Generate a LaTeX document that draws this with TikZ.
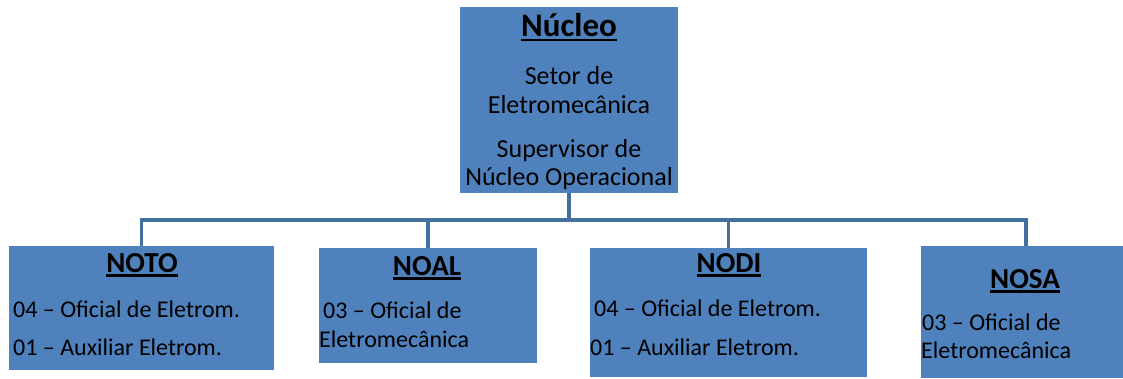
\documentclass[tikz,border=0pt]{standalone}
\usepackage{fontspec}
\setmainfont{Carlito}
\newcommand\myul[2]{\setbox0\hbox{#2}\rlap{\raisebox{-#1}{\rule{\wd0}{2.2pt}}}\box0}
\tikzset{
  box/.style={draw=none, fill=boxblue, rectangle, inner sep=0pt},
  conn/.style={draw=linkblue, line width=3.5pt},
  ttl/.style={anchor=base, inner sep=0pt, font=\bfseries\fontsize{29}{30}\selectfont},
  bodyc/.style={anchor=base, inner sep=0pt, font=\fontsize{26}{29}\selectfont},
  bodyl/.style={anchor=base west, inner sep=0pt, font=\fontsize{24}{28}\selectfont},
}
\definecolor{boxblue}{HTML}{4F81BD}
\definecolor{linkblue}{HTML}{41719C}
\begin{document}
\begin{tikzpicture}[x=1pt,y=-1pt]
\useasboundingbox (0,0) rectangle (1123,378);
% boxes
\node[box, minimum width=218pt, minimum height=186pt] (nucleo) at (569,100) {};
\node[box, minimum width=265pt, minimum height=124pt] (noto) at (141.5,308) {};
\node[box, minimum width=218pt, minimum height=115pt] (noal) at (428,305.5) {};
\node[box, minimum width=277pt, minimum height=129pt] (nodi) at (728.5,312.5) {};
\node[box, minimum width=202pt, minimum height=132pt] (nosa) at (1022,312) {};
% connectors
\coordinate (bus) at (569,220);
\coordinate (nosatop) at (1026,246);
\draw[conn] (nucleo.south) -- (bus);
\draw[conn] (noto.north) |- (nosatop |- bus) -- (nosatop);
\draw[conn] (noal.north) -- (noal.north |- bus);
\draw[conn] (nodi.north) -- (nodi.north |- bus);
% Núcleo texts
\node[ttl, font=\bfseries\fontsize{33}{34}\selectfont] (t0) at (569,36) {\myul{5pt}{Núcleo}};
\node[bodyc] (n1) at (569,84) {Setor de};
\node[bodyc] (n2) at (569,113) {Eletromecânica};
\node[bodyc] (n3) at (569,157) {Supervisor de};
\node[bodyc] (n4) at (569,185) {Núcleo Operacional};
% NOTO
\node[ttl] (t1) at (142,272) {\myul{4.5pt}{NOTO}};
\node[bodyl] (a1) at (13,317) {04 – Oficial de Eletrom.};
\node[bodyl] (a2) at (13,355) {01 – Auxiliar Eletrom.};
% NOAL
\node[ttl] (t2) at (427,275) {\myul{4.5pt}{NOAL}};
\node[bodyl] (b1) at (323,318) {03 – Oficial de};
\node[bodyl] (b2) at (319,347) {Eletromecânica};
% NODI
\node[ttl] (t3) at (729,272) {\myul{4.5pt}{NODI}};
\node[bodyl] (c1) at (594,316) {04 – Oficial de Eletrom.};
\node[bodyl] (c2) at (590,355) {01 – Auxiliar Eletrom.};
% NOSA
\node[ttl] (t4) at (1025,288) {\myul{4.5pt}{NOSA}};
\node[bodyl] (d1) at (922,330) {03 – Oficial de};
\node[bodyl] (d2) at (921,358) {Eletromecânica};
\end{tikzpicture}
\end{document}
